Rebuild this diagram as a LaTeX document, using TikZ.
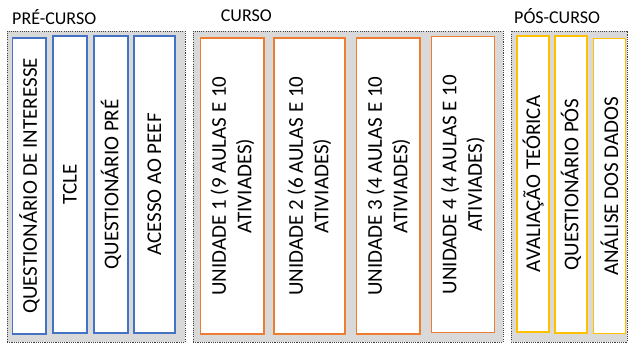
\documentclass[tikz,border=0pt]{standalone}
\usepackage{fontspec}
\setmainfont{Carlito}
\definecolor{preblue}{HTML}{4472C4}
\definecolor{curorange}{HTML}{ED7D31}
\definecolor{posyellow}{HTML}{FFC000}
\definecolor{panelgray}{HTML}{D9D9D9}
\definecolor{dotgray}{HTML}{404040}
\begin{document}
\begin{tikzpicture}[x=1pt,y=-1pt,
  panel/.style={draw=dotgray, fill=panelgray, line width=0.9pt,
    dash pattern=on 1.1pt off 1.1pt, inner sep=0pt},
  phase/.style={inner sep=0pt, anchor=base west, font=\fontsize{18}{20}\selectfont},
  stagebox/.style={draw, fill=white, line width=1.4pt, rotate=90, inner sep=0pt,
    align=center, font=\fontsize{21}{25.5}\selectfont},
  prebox/.style={stagebox, draw=preblue},
  curbox/.style={stagebox, draw=curorange},
  posbox/.style={stagebox, draw=posyellow}]
\useasboundingbox (0,0) rectangle (629,344);

% phase panels
\node[panel, minimum width=178pt, minimum height=311pt] (gpre) at (96,186.5) {};
\node[panel, minimum width=310pt, minimum height=311pt] (gcur) at (348,186.5) {};
\node[panel, minimum width=116pt, minimum height=311pt] (gpos) at (569,186.5) {};

% phase titles
\node[phase] (tpre) at (12,25) {PRÉ-CURSO};
\node[phase] (tcur) at (220.7,22) {CURSO};
\node[phase] (tpos) at (514,24) {PÓS-CURSO};

% pre-course steps
\node[prebox, minimum width=296pt, minimum height=33.3pt] (p1) at (29.4,186) {QUESTIONÁRIO DE INTERESSE};
\node[prebox, minimum width=297pt, minimum height=34pt] (p2) at (70,184.5) {TCLE};
\node[prebox, minimum width=297pt, minimum height=34pt] (p3) at (111,184.5) {QUESTIONÁRIO PRÉ};
\node[prebox, minimum width=297pt, minimum height=41pt] (p4) at (154.5,184.5) {ACESSO AO PEEF};

% course units
\node[curbox, minimum width=296pt, minimum height=63.3pt] (c1) at (232.3,186) {UNIDADE 1 (9 AULAS E 10\\ATIVIADES)};
\node[curbox, minimum width=296pt, minimum height=71pt] (c2) at (309.5,186) {UNIDADE 2 (6 AULAS E 10\\ATIVIADES)};
\node[curbox, minimum width=296pt, minimum height=63.3pt] (c3) at (388.3,186) {UNIDADE 3 (4 AULAS E 10\\ATIVIADES)};
\node[curbox, minimum width=296pt, minimum height=62.6pt] (c4) at (463,184.7) {UNIDADE 4 (4 AULAS E 10\\ATIVIADES)};

% post-course steps
\node[posbox, minimum width=296pt, minimum height=32pt] (s1) at (533,184) {AVALIAÇÃO TEÓRICA};
\node[posbox, minimum width=297pt, minimum height=32pt] (s2) at (571,184.5) {QUESTIONÁRIO PÓS};
\node[posbox, minimum width=295pt, minimum height=32pt] (s3) at (609.3,186.3) {ANÁLISE DOS DADOS};
\end{tikzpicture}
\end{document}
